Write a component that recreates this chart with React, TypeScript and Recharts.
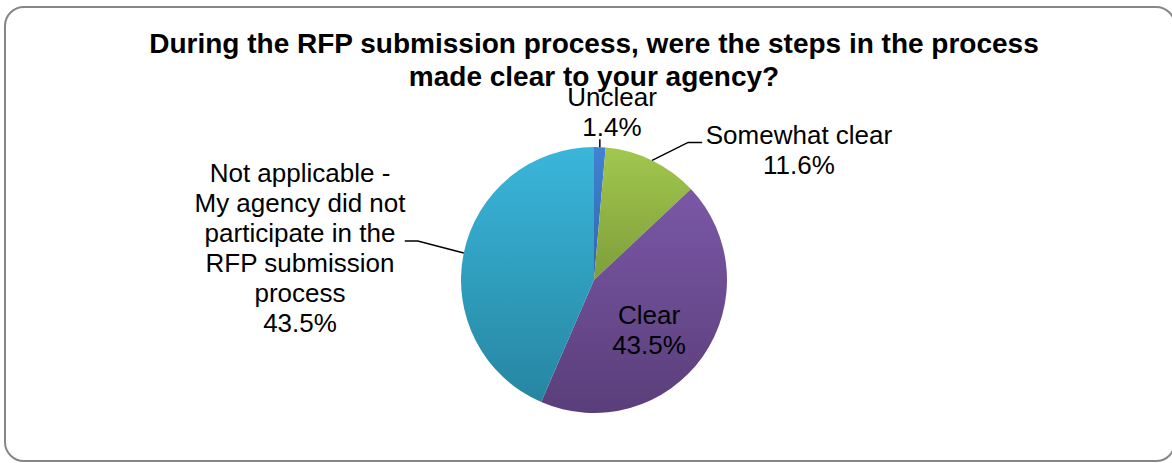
import { Cell, Pie, PieChart } from "recharts";

const titleLines = [
  "During the RFP submission process, were the steps in the process",
  "made clear to your agency?",
];

const categories = [
  "Unclear",
  "Somewhat clear",
  "Clear",
  "Not applicable - My agency did not participate in the RFP submission process",
];

const shares = [1.4, 11.6, 43.5, 43.5];

// top / bottom colours of each slice's gradient
const sliceColors = [
  ["#4183d2", "#2f66ad"],
  ["#a2c74e", "#7e9e3a"],
  ["#7a58a6", "#5a3e7a"],
  ["#3ab6db", "#2686a1"],
];

// label placement relative to the pie centre, leader elbows relative to the slice edge
const labelLayout = [
  { dx: 18, dy: -174, leader: [[0, -8]] },
  { dx: 205, dy: -136, leader: [[36, -18], [50, -18]] },
  { dx: 55, dy: 44, leader: [] },
  { dx: -294, dy: -98, leader: [[-46, -12], [-59, -12]] },
];

const FONT = '"Liberation Sans", Arial, sans-serif';
const LINE_H = 30;

const data = categories.map((name, i) => ({ name, value: shares[i] }));

function wrap(text: string, max: number) {
  const out: string[] = [];
  let cur = "";
  for (const w of text.split(" ")) {
    if (cur && (cur + " " + w).length > max) {
      out.push(cur);
      cur = w;
    } else {
      cur = cur ? cur + " " + w : w;
    }
  }
  if (cur) out.push(cur);
  return out;
}

function renderLabel(props: any) {
  const { cx, cy, midAngle, outerRadius, index } = props;
  const rad = Math.PI / 180;
  const sx = cx + outerRadius * Math.cos(-midAngle * rad);
  const sy = cy + outerRadius * Math.sin(-midAngle * rad);
  const layout = labelLayout[index];
  const lines = [...wrap(categories[index], 18), `${shares[index].toFixed(1)}%`];
  const pts = [[sx, sy], ...layout.leader.map(([x, y]) => [sx + x, sy + y])];
  return (
    <g key={`lbl-${index}`}>
      {pts.length > 1 && (
        <polyline
          points={pts.map((p) => p.join(",")).join(" ")}
          fill="none"
          stroke="#000"
          strokeWidth={1.5}
        />
      )}
      {lines.map((t, i) => (
        <text
          key={i}
          x={cx + layout.dx}
          y={cy + layout.dy + i * LINE_H}
          textAnchor="middle"
          fontFamily={FONT}
          fontSize={26}
          fill="#000"
        >
          {t}
        </text>
      ))}
    </g>
  );
}

export default function App() {
  return (
    <div style={{ position: "relative", width: 1172, height: 463, overflow: "hidden", background: "#fff" }}>
      <style>{"body{margin:0}"}</style>
      <div
        style={{
          position: "absolute",
          left: 4,
          top: 6,
          width: 1172,
          height: 456,
          boxSizing: "border-box",
          border: "2px solid #868686",
          borderRadius: 20,
        }}
      />
      <div style={{ position: "absolute", left: 0, top: 0 }}>
        <PieChart width={1172} height={463} margin={{ top: 0, right: 0, bottom: 0, left: 0 }}>
          <defs>
            {sliceColors.map(([top, bottom], i) => (
              <linearGradient key={i} id={`slice${i}`} x1="0" y1="0" x2="0" y2="1">
                <stop offset="0%" stopColor={top} />
                <stop offset="100%" stopColor={bottom} />
              </linearGradient>
            ))}
          </defs>
          <Pie
            data={data}
            dataKey="value"
            nameKey="name"
            cx={594}
            cy={280}
            outerRadius={133}
            startAngle={90}
            endAngle={-270}
            stroke="none"
            labelLine={false}
            label={renderLabel}
            isAnimationActive={false}
          >
            {data.map((_, i) => (
              <Cell key={i} fill={`url(#slice${i})`} />
            ))}
          </Pie>
        </PieChart>
      </div>
      <div
        style={{
          position: "absolute",
          left: 0,
          top: 27,
          width: 1188,
          textAlign: "center",
          fontFamily: FONT,
          fontWeight: "bold",
          fontSize: 28,
          lineHeight: "33px",
          color: "#000",
          pointerEvents: "none",
        }}
      >
        {titleLines.map((t) => (
          <div key={t}>{t}</div>
        ))}
      </div>
    </div>
  );
}
